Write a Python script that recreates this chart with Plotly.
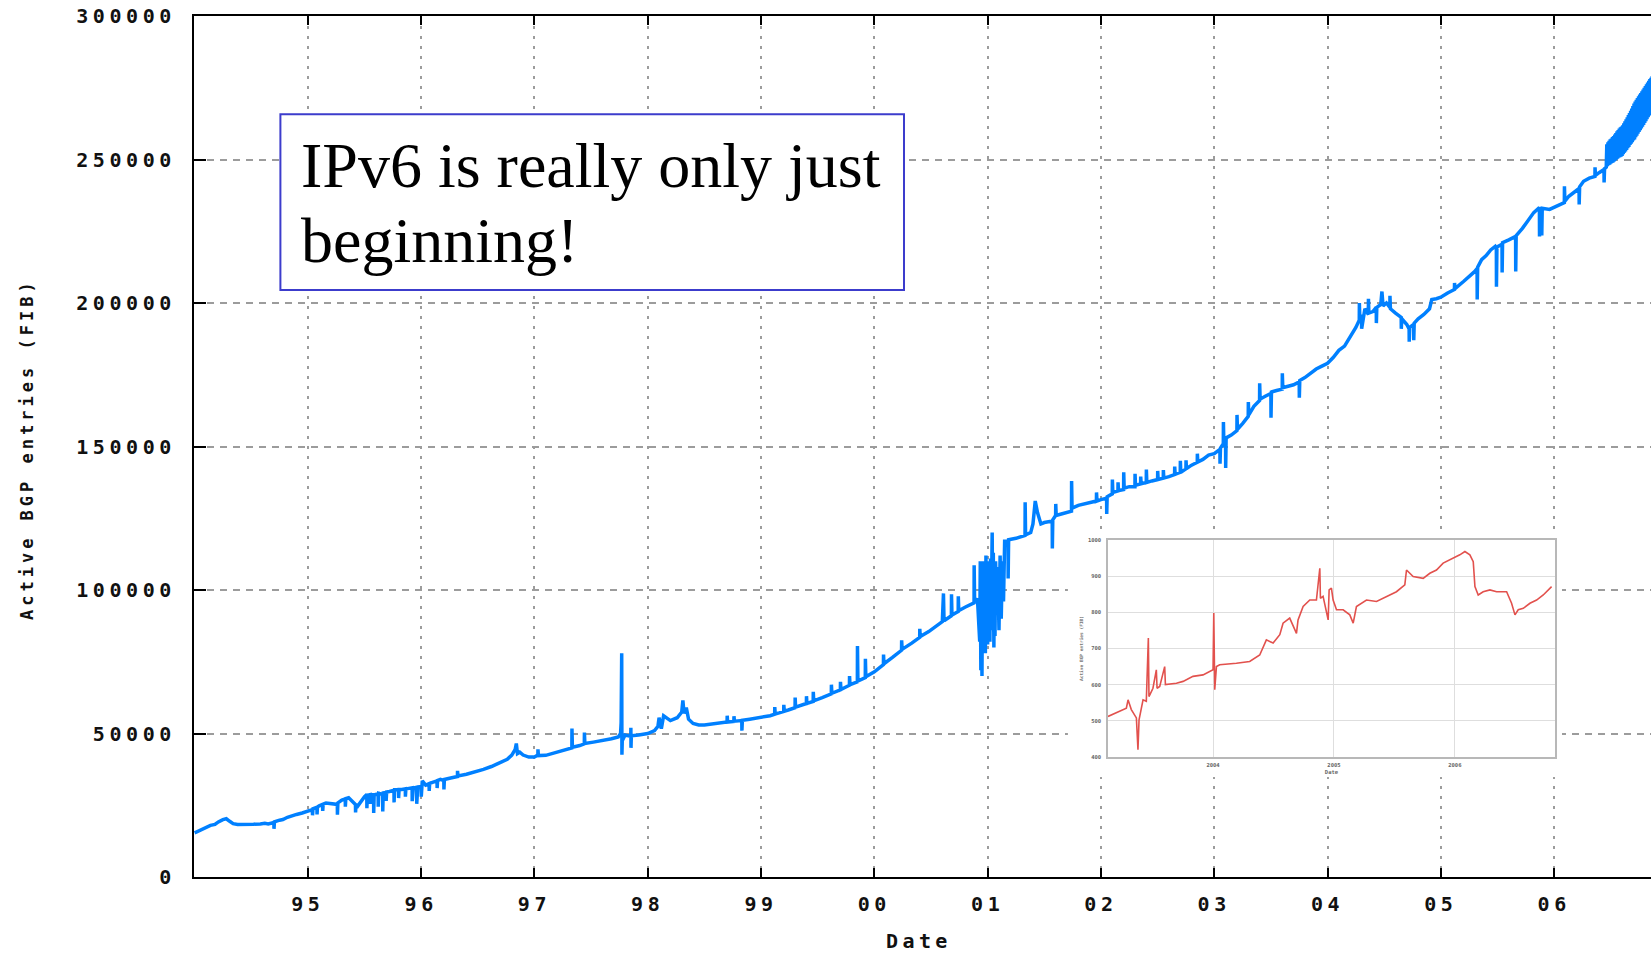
import plotly.graph_objects as go

# ---------------- main series: active BGP entries (FIB) ----------------
seg_1994 = [
    (1994.000, 15400), (1994.030, 16000), (1994.060, 16500), (1994.100, 17400), (1994.140, 18000),
    (1994.180, 18300), (1994.210, 19200), (1994.250, 20000), (1994.280, 20300), (1994.310, 19400),
    (1994.340, 18600), (1994.380, 18300), (1994.450, 18200), (1994.520, 18400), (1994.580, 18500),
    (1994.620, 18700), (1994.650, 18500), (1994.700, 19000), (1994.701, 16800), (1994.705, 19200),
    (1994.750, 19800), (1994.780, 20000), (1994.820, 20800), (1994.860, 21400), (1994.900, 21800),
    (1994.950, 22300),
]
seg_1995 = [
    (1995.000, 22900), (1995.040, 23500), (1995.041, 21500), (1995.045, 23800), (1995.080, 24300),
    (1995.081, 21800), (1995.085, 24400), (1995.100, 24800), (1995.130, 25300), (1995.131, 23000),
    (1995.135, 25400), (1995.160, 25800), (1995.200, 25500), (1995.260, 25300), (1995.261, 21700),
    (1995.265, 25800), (1995.300, 26800), (1995.330, 27200), (1995.331, 24500), (1995.335, 27300),
    (1995.360, 27600), (1995.400, 26000), (1995.420, 25300), (1995.421, 22500), (1995.425, 25200),
    (1995.440, 24700), (1995.470, 26500), (1995.500, 28000), (1995.520, 28700), (1995.521, 24000),
    (1995.525, 28500), (1995.550, 28700), (1995.551, 25500), (1995.555, 28700), (1995.580, 28700),
    (1995.581, 22300), (1995.585, 28600), (1995.620, 29000), (1995.621, 24500), (1995.625, 29200),
    (1995.660, 28800), (1995.661, 22800), (1995.665, 29300), (1995.690, 29500), (1995.691, 26500),
    (1995.695, 29600), (1995.720, 29800), (1995.760, 30200), (1995.761, 26000), (1995.765, 30400),
    (1995.800, 30400), (1995.801, 27500), (1995.805, 30500), (1995.830, 30500), (1995.860, 30700),
    (1995.861, 28000), (1995.865, 30700), (1995.880, 30800), (1995.920, 31100), (1995.921, 26400),
    (1995.930, 31000), (1995.960, 31300), (1995.961, 25500), (1995.970, 31200), (1995.990, 31700),
]
seg_1996 = [
    (1996.000, 31700), (1996.001, 28000), (1996.010, 33500), (1996.040, 32000), (1996.070, 32500),
    (1996.071, 30000), (1996.075, 32600), (1996.100, 33000), (1996.140, 33500), (1996.141, 31000),
    (1996.145, 33600), (1996.170, 34000), (1996.200, 33600), (1996.201, 30500), (1996.205, 34000),
    (1996.260, 34500), (1996.320, 35000), (1996.321, 37000), (1996.325, 35200), (1996.400, 35800),
    (1996.480, 36600), (1996.550, 37500), (1996.620, 38500), (1996.700, 39800), (1996.760, 41000),
    (1996.800, 42500), (1996.830, 44500), (1996.840, 46500), (1996.850, 43000), (1996.870, 43500),
    (1996.900, 42500), (1996.950, 41800),
]
seg_1997 = [
    (1997.000, 41800), (1997.030, 42500), (1997.031, 44500), (1997.035, 42300), (1997.100, 42400),
    (1997.150, 43000), (1997.250, 44000), (1997.330, 45000), (1997.331, 51700), (1997.335, 45200),
    (1997.400, 45800), (1997.440, 46400), (1997.441, 50300), (1997.445, 46500), (1997.520, 47000),
    (1997.600, 47500), (1997.680, 48200), (1997.740, 48800), (1997.760, 50000), (1997.765, 53800),
    (1997.770, 78000), (1997.772, 42600), (1997.775, 47500), (1997.800, 49500), (1997.850, 49000),
    (1997.851, 52000), (1997.852, 45000), (1997.855, 49200), (1997.920, 49500),
]
seg_1998 = [
    (1998.000, 50000), (1998.060, 51000), (1998.090, 52500), (1998.100, 55500), (1998.120, 51700),
    (1998.140, 56200), (1998.200, 54500), (1998.260, 55500), (1998.300, 57500), (1998.310, 61500),
    (1998.320, 57000), (1998.340, 59000), (1998.360, 55000), (1998.400, 53500), (1998.450, 53000),
    (1998.500, 53000), (1998.550, 53200), (1998.600, 53600), (1998.650, 53800), (1998.700, 54000),
    (1998.701, 56200), (1998.705, 54000), (1998.760, 54200), (1998.761, 56000), (1998.765, 54300),
    (1998.830, 54500), (1998.831, 51000), (1998.835, 54600), (1998.900, 55000),
]
seg_1999 = [
    (1999.000, 55500), (1999.080, 56200), (1999.120, 56700), (1999.121, 59200), (1999.125, 56800),
    (1999.160, 57200), (1999.200, 57700), (1999.201, 60000), (1999.205, 57800), (1999.240, 58200),
    (1999.300, 59000), (1999.301, 62500), (1999.305, 59200), (1999.380, 60200), (1999.400, 60400),
    (1999.401, 63000), (1999.405, 60500), (1999.460, 61200), (1999.461, 64500), (1999.465, 61400),
    (1999.540, 62500), (1999.620, 63800), (1999.621, 67000), (1999.625, 64000), (1999.700, 65200),
    (1999.701, 68000), (1999.705, 65300), (1999.780, 66800), (1999.781, 70000), (1999.785, 67000),
    (1999.850, 68000), (1999.851, 80500), (1999.855, 68300), (1999.920, 69500), (1999.921, 76000),
    (1999.925, 69800),
]
seg_2000 = [
    (2000.000, 71500), (2000.080, 74000), (2000.081, 77500), (2000.085, 74300), (2000.160, 76500),
    (2000.240, 79000), (2000.241, 82500), (2000.245, 79300), (2000.330, 81500), (2000.400, 83500),
    (2000.401, 86500), (2000.405, 83800), (2000.480, 85500), (2000.530, 87000), (2000.600, 89000),
    (2000.610, 98800), (2000.615, 89300), (2000.680, 91000), (2000.681, 98500), (2000.685, 91300),
    (2000.740, 92500), (2000.741, 97800), (2000.745, 92800), (2000.800, 94000), (2000.850, 95000),
    (2000.880, 95500), (2000.881, 108600), (2000.885, 96000), (2000.910, 97000),
    (2000.930, 82000), (2000.935, 110000), (2000.940, 72000), (2000.945, 104000), (2000.950, 70000),
    (2000.955, 108000), (2000.960, 80000), (2000.965, 110000), (2000.970, 86000), (2000.975, 106000),
    (2000.980, 78000), (2000.985, 112000), (2000.990, 84000), (2000.995, 109000),
]
seg_2001 = [
    (2001.000, 81000), (2001.005, 110000), (2001.010, 90000), (2001.015, 107000), (2001.020, 82000),
    (2001.025, 111000), (2001.030, 86000), (2001.040, 120000), (2001.045, 88000), (2001.050, 113000),
    (2001.055, 80000), (2001.060, 106000), (2001.065, 84000), (2001.070, 110000), (2001.080, 92000),
    (2001.090, 108000), (2001.100, 86000), (2001.110, 112000), (2001.120, 90000), (2001.130, 110000),
    (2001.140, 96000), (2001.150, 117000), (2001.180, 117000), (2001.181, 104000), (2001.185, 117500),
    (2001.250, 118000), (2001.300, 118500), (2001.330, 119000), (2001.331, 130600), (2001.335, 119200),
    (2001.380, 120000), (2001.400, 123000), (2001.420, 131000), (2001.440, 127000), (2001.470, 123000),
    (2001.500, 123500), (2001.570, 124000), (2001.571, 114500), (2001.575, 124500), (2001.600, 126000),
    (2001.601, 130000), (2001.605, 126000), (2001.650, 126500), (2001.700, 127000), (2001.740, 127500),
    (2001.741, 138000), (2001.745, 128500), (2001.800, 129500), (2001.850, 130000), (2001.900, 130500),
    (2001.960, 131000), (2001.961, 134000), (2001.965, 131000),
]
seg_2002 = [
    (2002.000, 131500), (2002.050, 132000), (2002.051, 126500), (2002.055, 132500), (2002.100, 133500),
    (2002.101, 138500), (2002.105, 134000), (2002.150, 134500), (2002.151, 137500), (2002.155, 134600),
    (2002.200, 135000), (2002.201, 141000), (2002.205, 135500), (2002.250, 136000), (2002.300, 136000),
    (2002.301, 140500), (2002.305, 136500), (2002.350, 137000), (2002.351, 139500), (2002.355, 137000),
    (2002.400, 137500), (2002.401, 142000), (2002.405, 137500), (2002.450, 138000), (2002.500, 138500),
    (2002.501, 141500), (2002.505, 138500), (2002.550, 139000), (2002.551, 141800), (2002.555, 139000),
    (2002.600, 139500), (2002.650, 140200), (2002.651, 143000), (2002.655, 140300), (2002.700, 141000),
    (2002.701, 145000), (2002.705, 141000), (2002.750, 142200), (2002.751, 145200), (2002.755, 142300),
    (2002.800, 143500), (2002.850, 144500), (2002.851, 147500), (2002.855, 144600), (2002.900, 145500),
    (2002.950, 147000),
]
seg_2003 = [
    (2003.000, 147500), (2003.050, 149000), (2003.051, 144000), (2003.055, 149500), (2003.080, 151000),
    (2003.081, 158500), (2003.085, 151000), (2003.100, 152000), (2003.101, 142500), (2003.105, 153000),
    (2003.150, 154000), (2003.200, 155500), (2003.201, 161000), (2003.205, 156000), (2003.250, 158000),
    (2003.300, 160500), (2003.301, 165500), (2003.305, 161000), (2003.350, 164000), (2003.400, 166000),
    (2003.401, 172000), (2003.405, 166500), (2003.450, 167500), (2003.500, 168500), (2003.501, 160000),
    (2003.505, 169000), (2003.550, 169500), (2003.600, 170000), (2003.601, 175500), (2003.605, 170500),
    (2003.700, 171500), (2003.750, 172500), (2003.751, 167000), (2003.755, 173000), (2003.800, 174000),
    (2003.850, 175500), (2003.900, 177000), (2003.950, 178000),
]
seg_2004 = [
    (2004.000, 179000), (2004.050, 181000), (2004.100, 183500), (2004.150, 185000), (2004.200, 188000),
    (2004.250, 191500), (2004.280, 194000), (2004.281, 200000), (2004.285, 194500), (2004.300, 196000),
    (2004.301, 191000), (2004.330, 198000), (2004.360, 196000), (2004.361, 201500), (2004.365, 196500),
    (2004.400, 197000), (2004.430, 198500), (2004.431, 193000), (2004.435, 198500), (2004.470, 199500),
    (2004.480, 204000), (2004.490, 199000), (2004.520, 200000), (2004.550, 198500), (2004.551, 202500),
    (2004.555, 198000), (2004.600, 196500), (2004.650, 195000), (2004.651, 191000), (2004.655, 194500),
    (2004.700, 192500), (2004.720, 191000), (2004.721, 186500), (2004.725, 191500), (2004.760, 192500),
    (2004.761, 187000), (2004.765, 193000), (2004.800, 194500), (2004.850, 196000), (2004.900, 198000),
    (2004.920, 201200), (2004.960, 201500),
]
seg_2005 = [
    (2005.000, 202000), (2005.060, 203500), (2005.120, 204700), (2005.121, 207000), (2005.125, 205000),
    (2005.200, 207500), (2005.250, 209200), (2005.300, 211000), (2005.320, 212000), (2005.321, 201200),
    (2005.325, 212500), (2005.360, 215100), (2005.400, 216500), (2005.440, 218500), (2005.480, 219700),
    (2005.490, 219000), (2005.491, 205700), (2005.495, 219500), (2005.540, 220500), (2005.541, 210600),
    (2005.545, 221000), (2005.600, 222000), (2005.660, 223200), (2005.661, 211000), (2005.665, 223500),
    (2005.720, 226000), (2005.780, 229100), (2005.820, 231500), (2005.870, 233300), (2005.871, 223200),
    (2005.880, 233300), (2005.890, 232500), (2005.891, 223500), (2005.895, 233000), (2005.960, 232600),
]
seg_2006 = [
    (2006.000, 233300), (2006.050, 234500), (2006.090, 235000), (2006.091, 240700), (2006.095, 235500),
    (2006.130, 237200), (2006.180, 238800), (2006.220, 239900), (2006.221, 234300), (2006.225, 240500),
    (2006.260, 242400), (2006.310, 243500), (2006.360, 244100), (2006.361, 247300), (2006.365, 244500),
    (2006.400, 245500), (2006.440, 246500), (2006.441, 242000), (2006.445, 246800),
]
seg_2006_band = [
    (2006.460, 247300), (2006.465, 255300), (2006.470, 247600), (2006.475, 256000),
    (2006.480, 248000), (2006.485, 256500), (2006.490, 248200), (2006.495, 257000),
    (2006.500, 248500), (2006.505, 257300), (2006.510, 248800), (2006.515, 257800),
    (2006.520, 249000), (2006.525, 258200), (2006.530, 249300), (2006.535, 258700),
    (2006.540, 249700), (2006.545, 259200), (2006.550, 250000), (2006.555, 259800),
    (2006.560, 250300), (2006.565, 260300), (2006.570, 250600), (2006.575, 260800),
    (2006.580, 250800), (2006.585, 261200), (2006.590, 251000), (2006.595, 261500),
    (2006.600, 251200), (2006.605, 261900), (2006.610, 251800), (2006.615, 262600),
    (2006.620, 252300), (2006.625, 263300), (2006.630, 252800), (2006.635, 264000),
    (2006.640, 253300), (2006.645, 264700), (2006.650, 253900), (2006.655, 265500),
    (2006.660, 254400), (2006.665, 266200), (2006.670, 255000), (2006.675, 267000),
    (2006.680, 255500), (2006.685, 267800), (2006.690, 256000), (2006.695, 268600),
    (2006.700, 256600), (2006.705, 269500), (2006.710, 257000), (2006.715, 270200),
    (2006.720, 257700), (2006.725, 270800), (2006.730, 258300), (2006.735, 271400),
    (2006.740, 259000), (2006.745, 272000), (2006.750, 259600), (2006.755, 272600),
    (2006.760, 260200), (2006.765, 273200), (2006.770, 260800), (2006.775, 273800),
    (2006.780, 261400), (2006.785, 274400), (2006.790, 262000), (2006.795, 275000),
    (2006.800, 262700), (2006.805, 275600), (2006.810, 263300), (2006.815, 276200),
    (2006.820, 264000), (2006.825, 276800), (2006.830, 264700), (2006.835, 277400),
    (2006.840, 265300), (2006.845, 278000), (2006.850, 266000), (2006.855, 278500),
    (2006.860, 266500), (2006.865, 279000), (2006.870, 267000), (2006.875, 279500),
]

# ---------------- inset series (small red chart) ----------------
inset_series = [
    (2003.131, 512), (2003.200, 523), (2003.283, 535), (2003.297, 558), (2003.324, 531),
    (2003.366, 508), (2003.379, 420), (2003.388, 503), (2003.421, 558), (2003.448, 554),
    (2003.465, 729), (2003.470, 567), (2003.503, 590), (2003.531, 641), (2003.537, 590),
    (2003.559, 595), (2003.600, 650), (2003.606, 600), (2003.697, 604), (2003.752, 609),
    (2003.834, 623), (2003.917, 627), (2004.000, 641), (2004.006, 798), (2004.014, 586),
    (2004.028, 650), (2004.055, 655), (2004.193, 659), (2004.303, 664), (2004.386, 682),
    (2004.414, 705), (2004.441, 724), (2004.497, 715), (2004.552, 738), (2004.579, 770),
    (2004.634, 784), (2004.690, 742), (2004.703, 779), (2004.745, 816), (2004.800, 834),
    (2004.855, 834), (2004.883, 922), (2004.888, 839), (2004.910, 844), (2004.952, 779),
    (2004.960, 862), (2004.979, 867), (2004.993, 834), (2005.021, 807), (2005.076, 807),
    (2005.131, 793), (2005.159, 770), (2005.186, 816), (2005.269, 834), (2005.352, 830),
    (2005.407, 839), (2005.517, 857), (2005.586, 876), (2005.600, 917), (2005.655, 899),
    (2005.738, 894), (2005.793, 908), (2005.848, 917), (2005.903, 936), (2005.959, 945),
    (2006.041, 959), (2006.083, 968), (2006.124, 959), (2006.152, 940), (2006.166, 871),
    (2006.193, 848), (2006.234, 857), (2006.290, 862), (2006.345, 857), (2006.428, 857),
    (2006.469, 825), (2006.497, 793), (2006.524, 807), (2006.566, 811), (2006.621, 825),
    (2006.676, 834), (2006.731, 848), (2006.800, 871),
]

year_ticks = [1995, 1996, 1997, 1998, 1999, 2000, 2001, 2002, 2003, 2004, 2005, 2006]
year_labels = ["95", "96", "97", "98", "99", "00", "01", "02", "03", "04", "05", "06"]
entry_ticks = [0, 50000, 100000, 150000, 200000, 250000, 300000]
entry_labels = ["0", "50000", "100000", "150000", "200000", "250000", "300000"]
inset_year_ticks = [2004, 2005, 2006]
inset_year_labels = ["2004", "2005", "2006"]
inset_entry_ticks = [400, 500, 600, 700, 800, 900, 1000]
inset_entry_labels = ["400", "500", "600", "700", "800", "900", "1000"]

y_title = "Active BGP entries (FIB)"
x_title = "Date"
note_lines = ["IPv6 is really only just", "beginning!"]

# ---------------- assemble ----------------
main_series = (seg_1994 + seg_1995 + seg_1996 + seg_1997 + seg_1998 + seg_1999 + seg_2000
               + seg_2001 + seg_2002 + seg_2003 + seg_2004 + seg_2005 + seg_2006 + seg_2006_band)
date = [p[0] for p in main_series]
entries = [p[1] for p in main_series]
v6_date = [p[0] for p in inset_series]
v6_entries = [p[1] for p in inset_series]


def spaced(text, ls):
    return f'<span style="letter-spacing:{ls}px">{text}</span>'


MONO = "DejaVu Sans Mono"
tick_font = dict(family=MONO, size=20, color="#111111", weight="bold")
inset_font = dict(family=MONO, size=5.5, color="#666666", weight="bold")

fig = go.Figure()
fig.add_trace(go.Scatter(x=date, y=entries, mode="lines", xaxis="x", yaxis="y",
                         line=dict(color="#0080ff", width=3.5), showlegend=False, hoverinfo="skip"))
fig.add_trace(go.Scatter(x=v6_date, y=v6_entries, mode="lines", xaxis="x3", yaxis="y3",
                         line=dict(color="#e2514d", width=1.6), showlegend=False, hoverinfo="skip"))

hidden_axis = dict(showgrid=False, showline=False, showticklabels=False, ticks="", zeroline=False,
                   range=[0, 1], fixedrange=True)

fig.update_layout(
    width=1651, height=954,
    margin=dict(l=194, r=0, t=16, b=77, autoexpand=False),
    paper_bgcolor="white", plot_bgcolor="white", showlegend=False,
    xaxis=dict(domain=[0, 1], anchor="y", range=[1993.995, 2006.855],
               tickmode="array", tickvals=year_ticks, ticktext=[spaced(t, 4.6) for t in year_labels],
               ticks="inside", ticklen=9, tickwidth=2, tickcolor="black",
               showline=True, linewidth=2, linecolor="black", mirror="ticks",
               showgrid=True, gridcolor="#9c9c9c", gridwidth=1.5, griddash="3px,7px",
               zeroline=False, tickfont=tick_font, ticklabelstandoff=8),
    yaxis=dict(domain=[0, 1], anchor="x", range=[0, 300000],
               tickmode="array", tickvals=entry_ticks, ticktext=[spaced(t, 4.6) for t in entry_labels],
               ticks="inside", ticklen=12, tickwidth=2, tickcolor="black",
               showline=True, linewidth=2, linecolor="black",
               showgrid=True, gridcolor="#9c9c9c", gridwidth=1.5, griddash="7px,6px",
               zeroline=False, tickfont=tick_font, ticklabelstandoff=12),
    yaxis4=dict(overlaying="y", side="right", anchor="x", range=[0, 300000],
                tickmode="array", tickvals=entry_ticks, ticks="inside", ticklen=9, tickwidth=2,
                tickcolor="black", showticklabels=False, showgrid=False, zeroline=False, showline=False),
    xaxis2=dict(domain=[0.5998, 0.9389], anchor="y2", **hidden_axis),
    yaxis2=dict(domain=[0.1161, 0.3961], anchor="x2", **hidden_axis),
    xaxis3=dict(domain=[0.6273, 0.9341], anchor="y3", range=[2003.131, 2006.828],
                tickmode="array", tickvals=inset_year_ticks, ticktext=inset_year_labels,
                ticks="", showgrid=True, gridcolor="#dedede", gridwidth=1,
                showline=True, linecolor="#b8b8b8", linewidth=1.5, mirror=True, zeroline=False,
                tickfont=inset_font, ticklabelstandoff=2,
                title=dict(text=x_title, font=inset_font, standoff=3)),
    yaxis3=dict(domain=[0.1394, 0.3914], anchor="x3", range=[400, 1000],
                tickmode="array", tickvals=inset_entry_ticks, ticktext=inset_entry_labels,
                ticks="", showgrid=True, gridcolor="#dedede", gridwidth=1,
                showline=True, linecolor="#b8b8b8", linewidth=1.5, mirror=True, zeroline=False,
                tickfont=inset_font, ticklabelstandoff=4,
                title=dict(text=y_title, font=dict(family=MONO, size=4.5, color="#777777", weight="bold"),
                           standoff=4)),
    shapes=[
        dict(type="rect", xref="x2", yref="y2", x0=0, x1=1, y0=0, y1=1,
             fillcolor="white", line=dict(width=0), layer="below"),
        dict(type="rect", xref="paper", yref="paper", x0=0.0593, x1=0.4873, y0=0.6818, y1=0.8858,
             fillcolor="white", line=dict(color="#3c3ccc", width=2), layer="above"),
    ],
    annotations=[
        dict(text=spaced(y_title, 4.0), xref="paper", yref="paper", x=-0.1146, y=0.4971,
             xanchor="center", yanchor="middle", textangle=-90, showarrow=False,
             font=dict(family=MONO, size=17, color="#111111", weight="bold")),
        dict(text=spaced(x_title, 4.4), xref="paper", yref="paper", x=0.4976, y=-0.0743,
             xanchor="center", yanchor="middle", showarrow=False, font=tick_font),
        dict(text=note_lines[0], xref="paper", yref="paper", x=0.0734, y=0.8268,
             xanchor="left", yanchor="middle", showarrow=False, borderpad=0, borderwidth=0,
             font=dict(family="Liberation Serif", size=64, color="black")),
        dict(text=note_lines[1], xref="paper", yref="paper", x=0.0734, y=0.7396,
             xanchor="left", yanchor="middle", showarrow=False, borderpad=0, borderwidth=0,
             font=dict(family="Liberation Serif", size=64, color="black")),
    ],
)

fig.write_html(
    "out.html",
    config={"displayModeBar": False},
    post_script="document.body.style.margin='0';document.body.style.padding='0';"
                "document.body.style.overflow='hidden';",
)
